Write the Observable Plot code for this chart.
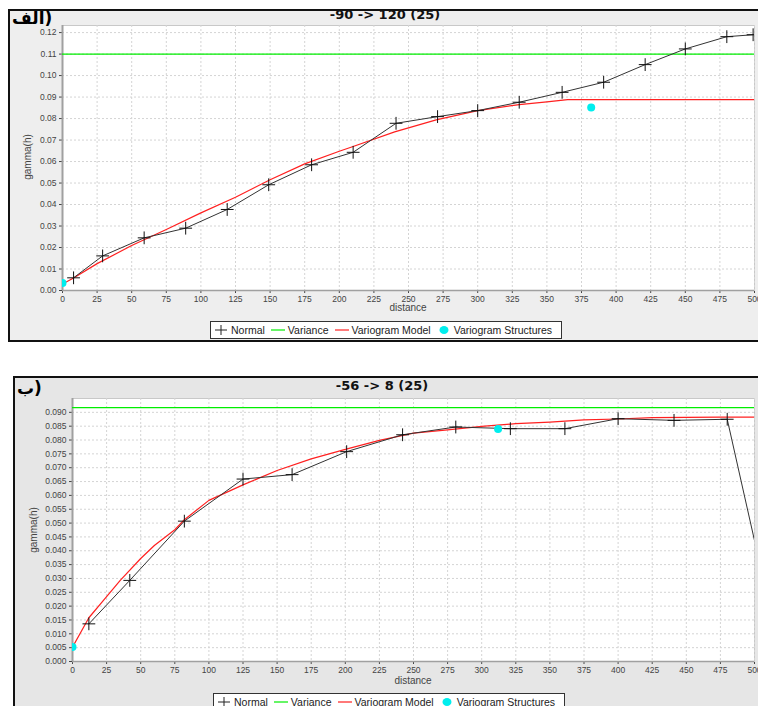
<!DOCTYPE html>
<html>
<head>
<meta charset="utf-8">
<script src="https://cdn.jsdelivr.net/npm/d3@7"></script>
<script src="https://cdn.jsdelivr.net/npm/@observablehq/plot@0.6"></script>
<style>
  html, body { margin: 0; padding: 0; }
  body { width: 758px; height: 706px; overflow: hidden; background: #fff; position: relative; font-family: "Liberation Sans", Arial, sans-serif; }
  .panel { position: absolute; border: 2px solid #111; box-sizing: border-box; }
  .abs { position: absolute; }
  .title { font-family: "DejaVu Sans", sans-serif; font-weight: bold; font-size: 13px; color: #111; white-space: nowrap; transform: translateX(-50%); }
  .tag { font-family: "DejaVu Sans", "Noto Sans", sans-serif; font-weight: bold; font-size: 17px; line-height: 20px; color: #000; white-space: nowrap; }
  .axlab { font-size: 10px; color: #444; white-space: nowrap; }
  .legend { position: absolute; border: 1px solid #333; background: #fff; box-sizing: border-box; display: flex; align-items: center; font-size: 10.5px; color: #222; padding-left: 3px; white-space: nowrap; }
  .legend .item { display: flex; align-items: center; margin-right: 6px; }
  .legend svg { margin-right: 3px; }
</style>
</head>
<body>
<script>
// ---------- Chart (الف) : -90 -> 120 (25) ----------
const xTicks = [0, 25, 50, 75, 100, 125, 150, 175, 200, 225, 250, 275, 300, 325, 350, 375, 400, 425, 450, 475, 500];
const yTicks1 = [0, 0.01, 0.02, 0.03, 0.04, 0.05, 0.06, 0.07, 0.08, 0.09, 0.10, 0.11, 0.12];
const normal1X = [8, 29, 59, 89, 119, 149, 180, 210, 241, 271, 300, 330, 361, 391, 421, 450, 480, 499];
const normal1Y = [0.0059, 0.0161, 0.0245, 0.0290, 0.0377, 0.0492, 0.0585, 0.0643, 0.0778, 0.0809, 0.0837, 0.0876, 0.0922, 0.0969, 0.1051, 0.1124, 0.1181, 0.1190];
const model1X = [0, 8, 25, 50, 75, 100, 125, 150, 175, 200, 210, 240, 270, 300, 330, 350, 365, 500];
const model1Y = [0.0030, 0.0058, 0.0125, 0.0209, 0.0284, 0.0361, 0.0434, 0.0515, 0.0589, 0.0648, 0.0670, 0.0738, 0.0794, 0.0837, 0.0865, 0.0878, 0.0888, 0.0888];
const variance1 = 0.110;
const struct1X = [0, 382];
const struct1Y = [0.0035, 0.0852];

// ---------- Chart (ب) : -56 -> 8 (25) ----------
const yTicks2 = [0, 0.005, 0.010, 0.015, 0.020, 0.025, 0.030, 0.035, 0.040, 0.045, 0.050, 0.055, 0.060, 0.065, 0.070, 0.075, 0.080, 0.085, 0.090];
const normal2X = [12, 42, 82, 125, 161, 201, 242, 281, 321, 361, 400, 441, 480, 500];
const normal2Y = [0.0136, 0.0293, 0.0507, 0.0659, 0.0675, 0.0758, 0.0819, 0.0847, 0.0841, 0.0841, 0.0877, 0.0871, 0.0875, 0.0437];
const model2X = [0, 12, 25, 35, 50, 60, 75, 82, 100, 125, 150, 175, 200, 225, 250, 275, 300, 325, 350, 375, 400, 425, 450, 475, 500];
const model2Y = [0.0052, 0.0158, 0.0234, 0.0293, 0.0372, 0.0419, 0.0476, 0.0512, 0.0582, 0.0638, 0.0690, 0.0732, 0.0766, 0.0799, 0.0825, 0.0837, 0.0849, 0.0859, 0.0865, 0.0873, 0.0876, 0.0881, 0.0882, 0.0883, 0.0883];
const variance2 = 0.0917;
const struct2X = [0, 312];
const struct2Y = [0.0052, 0.0840];

const legendLabels = ["Normal", "Variance", "Variogram Model", "Variogram Structures"];
const seriesColors = ["#222222", "#00ee00", "#ff2020", "#00eeee"];

const zip = (xs, ys) => xs.map((x, i) => ({x, y: ys[i]}));

function el(tag, cls, css, text) {
  const e = document.createElement(tag);
  if (cls) e.className = cls;
  Object.assign(e.style, css || {});
  if (text != null) e.textContent = text;
  document.body.appendChild(e);
  return e;
}

function makeChart(o) {
  const normal = zip(o.nx, o.ny);
  const model = zip(o.mx, o.my);
  const structs = zip(o.sx, o.sy);
  const svg = Plot.plot({
    width: 758,
    height: o.height,
    marginLeft: o.ml,
    marginRight: 4,
    marginTop: o.mt,
    marginBottom: o.mb,
    style: {background: "transparent", fontFamily: "Liberation Sans, Arial, sans-serif", fontSize: "8.5px", color: "#444", overflow: "visible"},
    x: {domain: [0, 500], ticks: xTicks, tickFormat: d => String(d), tickSize: 3, tickPadding: 2, label: null},
    y: {domain: [0, o.ymax], ticks: o.yTicks, tickFormat: d3.format(o.fmt), tickSize: 3, tickPadding: 3, label: null},
    marks: [
      Plot.frame({fill: "white", stroke: "#c8c8c8"}),
      Plot.ruleX(xTicks, {stroke: "#d4d4d4", strokeDasharray: "2,2"}),
      Plot.ruleY(o.yTicks, {stroke: "#d4d4d4", strokeDasharray: "2,2"}),
      Plot.ruleX([0], {stroke: "#a0a0a0", strokeWidth: 2}),
      Plot.ruleY([0], {stroke: "#a0a0a0", strokeWidth: 1.5}),
      Plot.ruleY([o.variance], {stroke: seriesColors[1], strokeWidth: 1.2}),
      Plot.line(model, {x: "x", y: "y", stroke: seriesColors[2], strokeWidth: 1.2, clip: true}),
      Plot.line(normal, {x: "x", y: "y", stroke: "#333", strokeWidth: 1, clip: true}),
      // last bin of chart (ب) lies at the clipped edge, no marker visible there
      Plot.dot(normal.filter(d => d.x < 500 || o.edgeMarker), {x: "x", y: "y", symbol: "plus", r: 4.2, stroke: "#111", strokeWidth: 1, clip: true}),
      Plot.dot(structs, {x: "x", y: "y", rx: 4.5, r: 4, fill: seriesColors[3], stroke: "none", clip: true})
    ]
  });
  svg.style.position = "absolute";
  svg.style.left = "0px";
  svg.style.top = o.top + "px";
  document.body.appendChild(svg);
}

function legend(left, top) {
  const box = el("div", "legend", {left: left + "px", top: top + "px", width: "352px", height: "18px"});
  legendLabels.forEach((lab, i) => {
    const it = document.createElement("span");
    it.className = "item";
    let icon;
    if (i === 0) icon = `<svg width="14" height="10"><line x1="1" y1="5" x2="13" y2="5" stroke="#222"/><line x1="7" y1="0" x2="7" y2="10" stroke="#222"/></svg>`;
    else if (i === 3) icon = `<svg width="14" height="10"><ellipse cx="7" cy="5" rx="4.5" ry="4" fill="${seriesColors[3]}"/></svg>`;
    else icon = `<svg width="14" height="10"><line x1="0" y1="5" x2="14" y2="5" stroke="${seriesColors[i]}" stroke-width="1.2"/></svg>`;
    it.innerHTML = icon + `<span>${lab}</span>`;
    box.appendChild(it);
  });
}

// panels
el("div", "panel", {left: "8px", top: "9px", width: "770px", height: "333px", background: "#eeeeee"});
el("div", "panel", {left: "13px", top: "376px", width: "770px", height: "360px", background: "#e6e6e6"});

// chart 1: plot area x 62..754, y 25..290
makeChart({nx: normal1X, ny: normal1Y, mx: model1X, my: model1Y, sx: struct1X, sy: struct1Y,
  variance: variance1, yTicks: yTicks1, fmt: ".2f", ymax: 0.1233,
  top: 20, height: 310, ml: 62, mt: 5, mb: 40, edgeMarker: true});
// chart 2: plot area x 72..754, y 398..661
makeChart({nx: normal2X, ny: normal2Y, mx: model2X, my: model2Y, sx: struct2X, sy: struct2Y,
  variance: variance2, yTicks: yTicks2, fmt: ".3f", ymax: 0.0950,
  top: 390, height: 301, ml: 72, mt: 8, mb: 30, edgeMarker: false});

// titles & tags
el("div", "abs title", {left: "385px", top: "7px"}, "-90 -> 120 (25)");
el("div", "abs title", {left: "382px", top: "378px"}, "-56 -> 8 (25)");
el("div", "abs tag", {left: "12px", top: "8px"}, "الف)");
el("div", "abs tag", {left: "17px", top: "378px"}, "ب)");

// axis labels
el("div", "abs axlab", {left: "408px", top: "302px", transform: "translateX(-50%)"}, "distance");
el("div", "abs axlab", {left: "413px", top: "675px", transform: "translateX(-50%)"}, "distance");
el("div", "abs axlab", {left: "27px", top: "157px", transform: "translate(-50%,-50%) rotate(-90deg)"}, "gamma(h)");
el("div", "abs axlab", {left: "33px", top: "530px", transform: "translate(-50%,-50%) rotate(-90deg)"}, "gamma(h)");

// legends
legend(210, 321);
legend(213, 693);
</script>
</body>
</html>
